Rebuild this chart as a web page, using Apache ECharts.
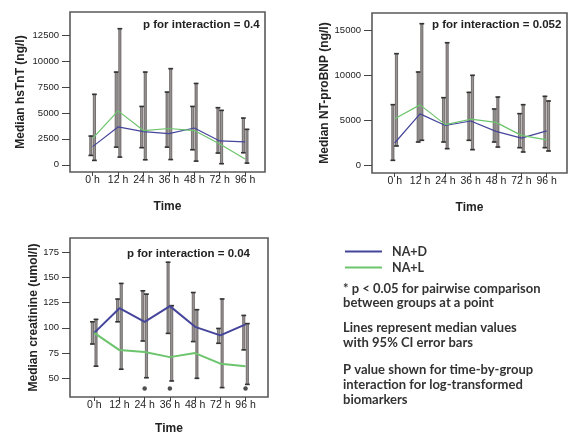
<!DOCTYPE html>
<html>
<head>
<meta charset="utf-8">
<script src="https://cdn.jsdelivr.net/npm/echarts@6/dist/echarts.min.js"></script>
<style>
  html, body { margin: 0; padding: 0; background: #fff; }
  #chart { width: 568px; height: 436px; }
</style>
</head>
<body>
<div id="chart"></div>
<script>
// Time points shared by all three panels
const times = ['0 h', '12 h', '24 h', '36 h', '48 h', '72 h', '96 h'];

// hsTnT (ng/l): medians and 95% CI bounds per group
const tntD     = [1750, 3650, 3200, 3000, 3550, 2300, 2200];
const tntL     = [2550, 5200, 3300, 3500, 3300, 2000, 550];
const tntDLow  = [900, 1700, 1650, 1700, 1450, 1130, 1160];
const tntDHigh = [2770, 8950, 5630, 7020, 5630, 5510, 4510];
const tntLLow  = [420, 740, 480, 500, 350, 100, 160];
const tntLHigh = [6800, 13140, 8950, 9280, 7850, 5250, 3420];
const tntTicks = [0, 2500, 5000, 7500, 10000, 12500];

// NT-proBNP (ng/l)
const bnpD     = [2450, 5700, 4400, 4900, 3750, 3000, 3800];
const bnpL     = [5150, 6700, 4500, 5100, 4750, 3300, 2800];
const bnpDLow  = [520, 2560, 2560, 2750, 2560, 1930, 1930];
const bnpDHigh = [6720, 10360, 7500, 8090, 6240, 5720, 7650];
const bnpLLow  = [2120, 2750, 1820, 1710, 2000, 1450, 1560];
const bnpLHigh = [12400, 15740, 13620, 9990, 7570, 6720, 7130];
const bnpTicks = [0, 5000, 10000, 15000];

// Creatinine (umol/l)
const creD     = [95, 119.5, 106, 121.5, 101, 92.5, 103.5];
const creL     = [95, 78, 76, 71, 75, 64.5, 62];
const creDLow  = [84, 106, 87, 94.5, 86.4, 84.7, 78.2];
const creDHigh = [106, 128.5, 136.7, 165, 135, 99.4, 112.3];
const creLLow  = [62, 59, 50.6, 47.4, 50, 40.8, 44];
const creLHigh = [108.4, 144, 133.4, 122, 118, 128.6, 104.2];
const creTicks = [50, 75, 100, 125, 150, 175];
// pairwise comparison significant (p < 0.05) at these time points
const creSig   = [false, false, true, true, false, false, true];

const interactionP = ['p for interaction = 0.4', 'p for interaction = 0.052', 'p for interaction = 0.04'];
const groups = ['NA+D', 'NA+L'];
const notes = [
  '* p < 0.05 for pairwise comparison\nbetween groups at a point',
  'Lines represent median values\nwith 95% CI error bars',
  'P value shown for time-by-group\ninteraction for log-transformed\nbiomarkers'
];

const BLUE = '#45459b';
const GREEN = '#6cc46c';
const AXIS_FONT = 'Liberation Sans';
const NOTE_FONT = 'Lato';
const idx = times.map((_, i) => i);
const STAR_LEVEL = 40;

const pairs = vals => vals.map((v, i) => [i, v]);

function ciSeries(name, gi, lo, hi, shift) {
  return {
    type: 'custom', name, xAxisIndex: gi, yAxisIndex: gi, z: 2, silent: true,
    data: lo.map((l, i) => [i, l, hi[i]]),
    renderItem(params, api) {
      const top = api.coord([api.value(0), api.value(2)]);
      const bot = api.coord([api.value(0), api.value(1)]);
      const x = top[0] + shift;
      const cap = 2.4;
      return {
        type: 'group',
        children: [
          { type: 'rect', shape: { x: x - 1.1, y: top[1], width: 2.2, height: bot[1] - top[1] },
            style: { fill: '#9a9494', stroke: '#524c4c', lineWidth: 0.7 } },
          { type: 'line', shape: { x1: x - cap, y1: top[1], x2: x + cap, y2: top[1] },
            style: { stroke: '#333', lineWidth: 1.6 } },
          { type: 'line', shape: { x1: x - cap, y1: bot[1], x2: x + cap, y2: bot[1] },
            style: { stroke: '#333', lineWidth: 1.6 } }
        ]
      };
    }
  };
}

function lineSeries(name, gi, vals, color, width) {
  return {
    type: 'line', name, xAxisIndex: gi, yAxisIndex: gi, data: pairs(vals),
    symbol: 'none', z: 3, silent: true,
    lineStyle: { color, width }, itemStyle: { color }
  };
}

function xAxis(gi, min, max, gap) {
  return {
    type: 'value', gridIndex: gi, min, max,
    splitLine: { show: false },
    axisLine: { show: false, onZero: false },
    axisTick: { show: true, length: 4, customValues: idx, lineStyle: { color: '#444', width: 1 } },
    axisLabel: { customValues: idx, formatter: v => times[v], fontSize: 10.5, color: '#222',
                 margin: 3, fontFamily: AXIS_FONT },
    name: 'Time', nameLocation: 'middle', nameGap: gap,
    nameTextStyle: { fontWeight: 'bold', fontSize: 12, color: '#222', fontFamily: AXIS_FONT }
  };
}

function yAxis(gi, min, max, ticks, name, gap) {
  return {
    type: 'value', gridIndex: gi, min, max,
    splitLine: { show: false },
    axisLine: { show: false, onZero: false },
    axisTick: { show: true, length: 8, customValues: ticks, lineStyle: { color: '#444', width: 1 } },
    axisLabel: { customValues: ticks, formatter: v => String(v), fontSize: 9.5, color: '#222',
                 margin: 11, fontFamily: AXIS_FONT },
    name, nameLocation: 'middle', nameRotate: 90, nameGap: gap,
    nameTextStyle: { fontWeight: 'bold', fontSize: 12, color: '#222', fontFamily: AXIS_FONT }
  };
}

const frame = { show: true, borderColor: '#5a5a5a', borderWidth: 1.6, backgroundColor: 'transparent' };
const pFont = 'bold 11.5px "Liberation Sans"';
const noteFont = 'bold 13px ' + NOTE_FONT;

const chart = echarts.init(document.getElementById('chart'), null, { renderer: 'canvas' });

chart.setOption({
  animation: false,
  backgroundColor: '#fff',
  grid: [
    Object.assign({ left: 70, top: 12, width: 195, height: 160 }, frame),
    Object.assign({ left: 372, top: 13, width: 195, height: 160 }, frame),
    Object.assign({ left: 70, top: 238, width: 198, height: 162 }, frame)
  ],
  xAxis: [
    xAxis(0, -0.89, 6.78, 29),
    xAxis(1, -0.895, 6.80, 29),
    xAxis(2, -0.96, 6.89, 26)
  ],
  yAxis: [
    yAxis(0, -700, 14750, tntTicks, 'Median hsTnT (ng/l)', 43),
    yAxis(1, -890, 16930, bnpTicks, 'Median NT-proBNP (ng/l)', 41),
    yAxis(2, 31.5, 189, creTicks, 'Median creatinine (umol/l)', 30)
  ],
  legend: {
    data: groups, orient: 'vertical', left: 340, top: 240,
    icon: 'rect', itemWidth: 37, itemHeight: 2, itemGap: 3, selectedMode: false,
    textStyle: { fontFamily: NOTE_FONT, fontWeight: 'bold', fontSize: 12.5, color: '#333',
                 lineHeight: 13, padding: [0, 0, 0, 5] }
  },
  graphic: [
    { type: 'text', x: 143, y: 25, style: { text: interactionP[0], font: pFont, fill: '#222', verticalAlign: 'middle' } },
    { type: 'text', x: 432, y: 25, style: { text: interactionP[1], font: pFont, fill: '#222', verticalAlign: 'middle' } },
    { type: 'text', x: 127, y: 254, style: { text: interactionP[2], font: pFont, fill: '#222', verticalAlign: 'middle' } },
    { type: 'text', x: 343, y: 281.5, style: { text: notes[0], font: noteFont, lineHeight: 14, fill: '#333' } },
    { type: 'text', x: 343, y: 320, style: { text: notes[1], font: noteFont, lineHeight: 15.5, fill: '#333' } },
    { type: 'text', x: 343, y: 362, style: { text: notes[2], font: noteFont, lineHeight: 15, fill: '#333' } }
  ],
  series: [
    ciSeries('NA+D CI', 0, tntDLow, tntDHigh, -1.8),
    ciSeries('NA+L CI', 0, tntLLow, tntLHigh, 1.8),
    lineSeries(groups[0], 0, tntD, BLUE, 1.2),
    lineSeries(groups[1], 0, tntL, GREEN, 1.2),

    ciSeries('NA+D CI', 1, bnpDLow, bnpDHigh, -1.8),
    ciSeries('NA+L CI', 1, bnpLLow, bnpLHigh, 1.8),
    lineSeries(groups[0], 1, bnpD, BLUE, 1.2),
    lineSeries(groups[1], 1, bnpL, GREEN, 1.2),

    ciSeries('NA+D CI', 2, creDLow, creDHigh, -1.8),
    ciSeries('NA+L CI', 2, creLLow, creLHigh, 1.8),
    lineSeries(groups[0], 2, creD, BLUE, 2),
    lineSeries(groups[1], 2, creL, GREEN, 2),
    {
      type: 'scatter', name: 'significant', xAxisIndex: 2, yAxisIndex: 2, silent: true, z: 4,
      symbol: 'circle', symbolSize: 4.5, itemStyle: { color: '#222' },
      data: creSig.map((s, i) => s ? [i, STAR_LEVEL] : null).filter(Boolean)
    }
  ]
});
</script>
</body>
</html>
